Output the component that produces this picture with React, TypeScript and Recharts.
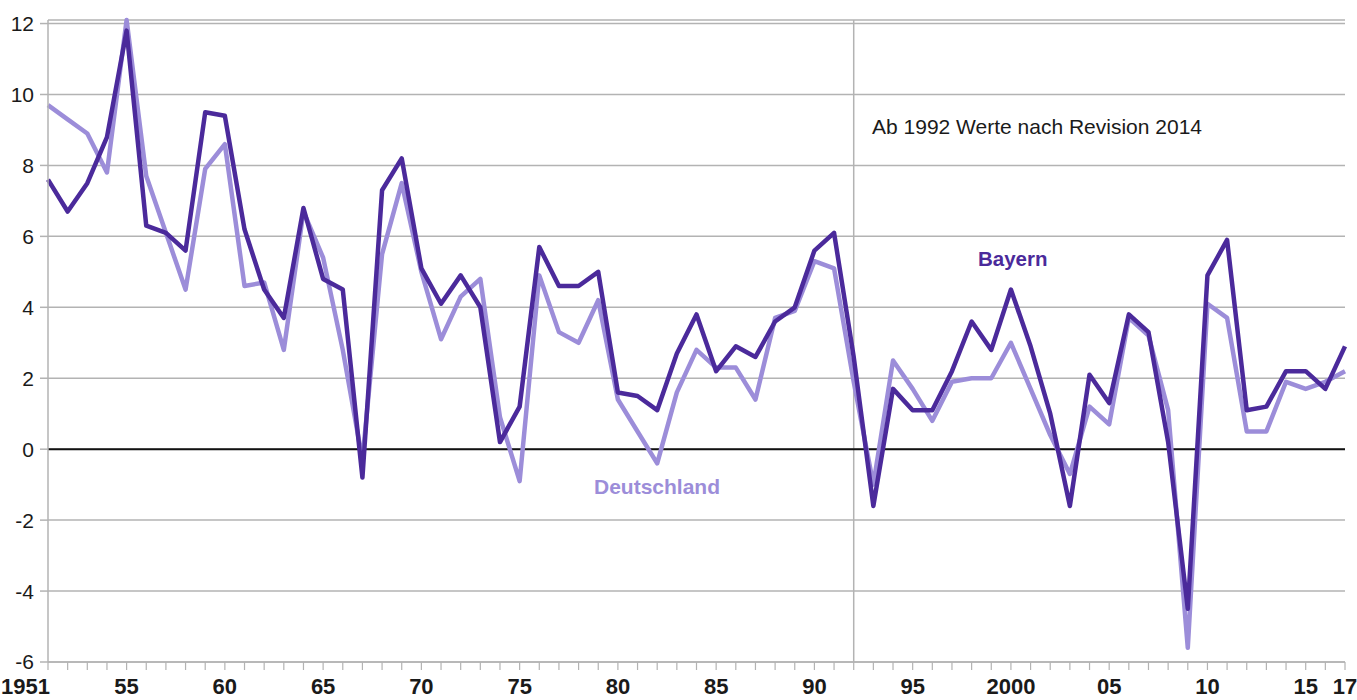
import { LineChart, Line, XAxis, YAxis, CartesianGrid, ReferenceLine } from 'recharts'

const years = [
  1951, 1952, 1953, 1954, 1955, 1956, 1957, 1958, 1959, 1960,
  1961, 1962, 1963, 1964, 1965, 1966, 1967, 1968, 1969, 1970,
  1971, 1972, 1973, 1974, 1975, 1976, 1977, 1978, 1979, 1980,
  1981, 1982, 1983, 1984, 1985, 1986, 1987, 1988, 1989, 1990,
  1991, 1992, 1993, 1994, 1995, 1996, 1997, 1998, 1999, 2000,
  2001, 2002, 2003, 2004, 2005, 2006, 2007, 2008, 2009, 2010,
  2011, 2012, 2013, 2014, 2015, 2016, 2017,
]

// Bayern, Veränderung in %
const bayern = [
  7.6, 6.7, 7.5, 8.8, 11.8, 6.3, 6.1, 5.6, 9.5, 9.4,
  6.2, 4.5, 3.7, 6.8, 4.8, 4.5, -0.8, 7.3, 8.2, 5.1,
  4.1, 4.9, 4.0, 0.2, 1.2, 5.7, 4.6, 4.6, 5.0, 1.6,
  1.5, 1.1, 2.7, 3.8, 2.2, 2.9, 2.6, 3.6, 4.0, 5.6,
  6.1, 2.6, -1.6, 1.7, 1.1, 1.1, 2.2, 3.6, 2.8, 4.5,
  2.9, 1.0, -1.6, 2.1, 1.3, 3.8, 3.3, 0.2, -4.5, 4.9,
  5.9, 1.1, 1.2, 2.2, 2.2, 1.7, 2.9,
]

// Deutschland
const deutschland = [
  9.7, 9.3, 8.9, 7.8, 12.1, 7.7, 6.1, 4.5, 7.9, 8.6,
  4.6, 4.7, 2.8, 6.7, 5.4, 2.8, -0.3, 5.5, 7.5, 5.0,
  3.1, 4.3, 4.8, 0.9, -0.9, 4.9, 3.3, 3.0, 4.2, 1.4,
  0.5, -0.4, 1.6, 2.8, 2.3, 2.3, 1.4, 3.7, 3.9, 5.3,
  5.1, 1.9, -1.0, 2.5, 1.7, 0.8, 1.9, 2.0, 2.0, 3.0,
  1.7, 0.4, -0.7, 1.2, 0.7, 3.7, 3.2, 1.1, -5.6, 4.1,
  3.7, 0.5, 0.5, 1.9, 1.7, 1.9, 2.2,
]

const yTicks = [-6, -4, -2, 0, 2, 4, 6, 8, 10, 12]

// only some years get a label, the rest just a tick mark
const xLabels: Record<number, string> = {
  1951: '1951', 1955: '55', 1960: '60', 1965: '65', 1970: '70', 1975: '75',
  1980: '80', 1985: '85', 1990: '90', 1995: '95', 2000: '2000', 2005: '05',
  2010: '10', 2015: '15', 2017: '17',
}

const DARK = '#4B2A9B'
const LIGHT = '#9C8DD9'
const GRID = '#b3b3b3'
const FONT = '"Liberation Sans", Arial, Helvetica, sans-serif'
const NARROW = '"Liberation Sans Narrow", "Liberation Sans", Arial, sans-serif'

const data = years.map((year, i) => ({
  year,
  bayern: bayern[i],
  deutschland: deutschland[i],
}))

function YearTick({ x, y, payload }: any) {
  const label = xLabels[payload.value]
  if (!label) return null
  const first = payload.value === 1951
  return (
    <text
      x={first ? x - 47 : x}
      y={y}
      dy={22}
      textAnchor={first ? 'start' : 'middle'}
      fontFamily={NARROW}
      fontWeight="bold"
      fontSize={22}
      fill="#1a1a1a"
    >
      {label}
    </text>
  )
}

export default function App() {
  return (
    <div style={{ position: 'absolute', left: 0, top: 0, width: 1357, height: 700, background: '#fff' }}>
      <LineChart
        width={1357}
        height={700}
        data={data}
        margin={{ top: 20, right: 12, left: 0, bottom: 0 }}
      >
        <CartesianGrid vertical={false} stroke={GRID} strokeWidth={1.5} />
        <XAxis
          dataKey="year"
          type="number"
          domain={[1951, 2017]}
          ticks={years}
          interval={0}
          height={38}
          tickSize={8}
          tickMargin={2}
          axisLine={{ stroke: GRID, strokeWidth: 1.5 }}
          tickLine={{ stroke: GRID, strokeWidth: 1.2 }}
          tick={<YearTick />}
        />
        <YAxis
          type="number"
          domain={[-6, 12]}
          ticks={yTicks}
          interval={0}
          width={48}
          tickSize={8}
          tickMargin={6}
          axisLine={{ stroke: GRID, strokeWidth: 1.5 }}
          tickLine={{ stroke: GRID, strokeWidth: 1.5 }}
          tick={{ fontSize: 21, fill: '#1a1a1a', fontFamily: FONT }}
        />
        <ReferenceLine x={1992} stroke={GRID} strokeWidth={1.5} />
        <ReferenceLine y={0} stroke="#111" strokeWidth={2} />
        <Line
          dataKey="deutschland"
          stroke={LIGHT}
          strokeWidth={4.5}
          strokeLinejoin="round"
          dot={false}
          activeDot={false}
          isAnimationActive={false}
        />
        <Line
          dataKey="bayern"
          stroke={DARK}
          strokeWidth={4.5}
          strokeLinejoin="round"
          dot={false}
          activeDot={false}
          isAnimationActive={false}
        />
      </LineChart>
      <div style={{ position: 'absolute', left: 872, top: 115, fontFamily: FONT, fontSize: 21, color: '#1a1a1a', whiteSpace: 'nowrap' }}>
        Ab 1992 Werte nach Revision 2014
      </div>
      <div style={{ position: 'absolute', left: 978, top: 247, fontFamily: FONT, fontSize: 20.5, fontWeight: 'bold', color: DARK }}>
        Bayern
      </div>
      <div style={{ position: 'absolute', left: 594, top: 475, fontFamily: FONT, fontSize: 21, fontWeight: 'bold', color: LIGHT }}>
        Deutschland
      </div>
    </div>
  )
}
